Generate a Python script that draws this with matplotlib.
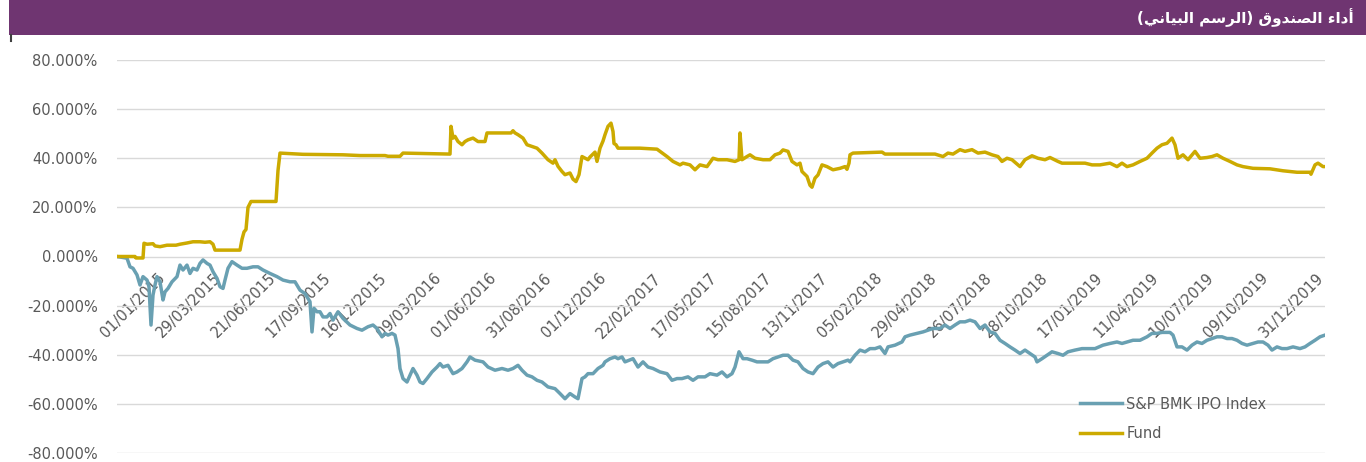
import matplotlib
matplotlib.use("Agg")
import matplotlib.pyplot as plt
from matplotlib.patches import Rectangle
from matplotlib.lines import Line2D
import numpy as np

# ---------------- data ----------------
title_ar = "أداء الصندوق (الرسم البياني)"
series_names = ["S&P BMK IPO Index", "Fund"]
tick_labels = ["01/01/2015", "29/03/2015", "21/06/2015", "17/09/2015", "16/12/2015",
               "09/03/2016", "01/06/2016", "31/08/2016", "01/12/2016", "22/02/2017",
               "17/05/2017", "15/08/2017", "13/11/2017", "05/02/2018", "29/04/2018",
               "26/07/2018", "28/10/2018", "17/01/2019", "11/04/2019", "10/07/2019",
               "09/10/2019", "31/12/2019"]
n_obs = 1208  # observation index span of the category axis

# (observation index, cumulative return %)
index_points = [
    (0, 0), (10, -0.7), (13, -4.2), (16, -4.8), (20, -7.5), (23, -11.6), (26, -8.2),
    (30, -9.6), (32, -12.3), (34, -27.9), (36, -15.7), (38, -11.6), (40, -8.2),
    (43, -10.3), (46, -17.7), (48, -14.4), (51, -13.0), (55, -10.3), (60, -8.2),
    (63, -3.5), (66, -5.5), (70, -3.5), (73, -6.9), (76, -4.8), (80, -5.5), (83, -2.8),
    (86, -1.4), (90, -2.8), (93, -3.5), (96, -6.2), (100, -8.9), (103, -12.3),
    (106, -13.0), (108, -9.6), (111, -4.8), (115, -2.1), (120, -3.5), (125, -4.8),
    (130, -4.8), (136, -4.2), (141, -4.2), (146, -5.5), (153, -6.9), (160, -8.2),
    (166, -9.6), (173, -10.3), (178, -10.3), (183, -13.7), (188, -15.1), (193, -18.4),
    (195, -30.7), (197, -21.1), (200, -22.5), (203, -22.5), (206, -24.6), (210, -24.6),
    (213, -23.2), (216, -25.9), (221, -22.5), (226, -25.2), (233, -27.9), (240, -29.3),
    (245, -30.0), (251, -28.6), (256, -27.9), (260, -29.3), (265, -32.7), (268, -31.3),
    (271, -32.0), (275, -31.3), (278, -32.0), (281, -37.5), (283, -45.6), (286, -49.7),
    (290, -51.1), (293, -48.3), (296, -45.6), (300, -48.3), (303, -51.1), (306, -51.7),
    (310, -49.7), (315, -47.0), (320, -45.0), (323, -43.6), (326, -45.0), (331, -44.3),
    (336, -47.7), (340, -47.0), (345, -45.6), (350, -42.9), (353, -40.9), (358, -42.2),
    (366, -42.9), (371, -45.0), (378, -46.3), (385, -45.6), (391, -46.3), (396, -45.6),
    (401, -44.3), (405, -46.3), (410, -48.3), (415, -49.0), (420, -50.4), (425, -51.1),
    (431, -53.1), (438, -53.8), (443, -55.8), (448, -57.9), (453, -55.8), (458, -57.2),
    (461, -57.9), (465, -49.7), (468, -49.0), (471, -47.7), (476, -47.7), (481, -45.6),
    (486, -44.3), (488, -42.9), (493, -41.6), (498, -40.9), (501, -41.6), (505, -40.9),
    (508, -42.9), (516, -41.6), (521, -45.0), (526, -42.9), (531, -45.0), (536, -45.6),
    (543, -47.0), (550, -47.7), (555, -50.4), (560, -49.7), (565, -49.7), (571, -49.0),
    (576, -50.4), (581, -49.0), (588, -49.0), (593, -47.7), (600, -48.3), (605, -47.0),
    (610, -49.0), (615, -47.7), (618, -45.0), (622, -38.8), (626, -41.6), (630, -41.6),
    (635, -42.2), (640, -42.9), (646, -42.9), (651, -42.9), (656, -41.6), (661, -40.9),
    (666, -40.2), (671, -40.2), (676, -42.2), (681, -42.9), (686, -45.6), (691, -47.0),
    (696, -47.7), (701, -45.0), (706, -43.6), (711, -42.9), (716, -45.0), (721, -43.6),
    (726, -42.9), (731, -42.2), (733, -42.9), (738, -40.2), (743, -38.1), (748, -38.8),
    (753, -37.5), (758, -37.5), (763, -36.8), (768, -39.5), (771, -36.8), (778, -36.1),
    (785, -34.8), (788, -32.7), (793, -32.0), (800, -31.3), (806, -30.7), (811, -30.0),
    (816, -29.3), (823, -29.3), (828, -27.9), (833, -29.3), (838, -27.9), (843, -26.6),
    (848, -26.6), (853, -25.9), (858, -26.6), (863, -29.3), (868, -27.9), (873, -30.7),
    (878, -31.3), (883, -34.1), (888, -35.4), (893, -36.8), (898, -38.1), (903, -39.5),
    (908, -38.1), (913, -39.5), (918, -40.9), (920, -42.9), (925, -41.6), (930, -40.2),
    (935, -38.8), (941, -39.5), (946, -40.2), (951, -38.8), (958, -38.1), (965, -37.5),
    (971, -37.5), (978, -37.5), (986, -36.1), (993, -35.4), (1000, -34.8), (1005, -35.4),
    (1010, -34.8), (1016, -34.1), (1023, -34.1), (1030, -32.7), (1035, -31.3),
    (1040, -31.3), (1045, -30.9), (1053, -30.9), (1056, -32.0), (1060, -36.8),
    (1065, -36.8), (1070, -38.1), (1075, -36.1), (1080, -34.8), (1085, -35.4),
    (1090, -34.1), (1095, -33.4), (1100, -32.7), (1105, -32.7), (1110, -33.4),
    (1115, -33.4), (1120, -34.1), (1125, -35.4), (1130, -36.1), (1136, -35.4),
    (1141, -34.8), (1146, -34.8), (1151, -36.1), (1155, -38.1), (1160, -36.8),
    (1165, -37.5), (1170, -37.5), (1176, -36.8), (1183, -37.5), (1188, -36.8),
    (1193, -35.4), (1198, -34.1), (1203, -32.7), (1208, -32.0),
]

fund_points = [
    (0, 0), (18, 0), (19, -0.6), (26, -0.6), (27, 5.4), (30, 5.0), (36, 5.2), (38, 4.3),
    (43, 4.0), (50, 4.6), (59, 4.6), (63, 5.0), (70, 5.5), (76, 6.0), (83, 6.0),
    (88, 5.8), (93, 6.0), (96, 5.0), (98, 2.6), (123, 2.6), (125, 7.0), (127, 10.0),
    (129, 11.0), (131, 20.0), (134, 22.4), (159, 22.4), (161, 35.0), (163, 42.1),
    (186, 41.6), (226, 41.4), (243, 41.1), (268, 41.1), (271, 40.8), (283, 40.8),
    (286, 42.1), (333, 41.7), (334, 53.0), (336, 48.2), (338, 48.9), (341, 46.8),
    (345, 45.5), (348, 46.8), (351, 47.5), (356, 48.2), (361, 46.8), (368, 46.8),
    (370, 50.3), (394, 50.3), (396, 51.2), (398, 50.3), (401, 49.6), (406, 48.2),
    (410, 45.5), (415, 44.8), (420, 44.1), (425, 42.1), (431, 39.4), (436, 38.0),
    (438, 39.4), (441, 36.7), (445, 34.6), (448, 33.3), (453, 34.0), (456, 31.5),
    (459, 30.5), (462, 33.3), (465, 40.7), (471, 39.4), (473, 40.5), (478, 42.5),
    (480, 38.7), (483, 44.1), (486, 47.0), (488, 49.6), (491, 53.0), (494, 54.3),
    (496, 50.9), (497, 46.0), (499, 45.5), (501, 44.1), (523, 44.1), (540, 43.7),
    (543, 42.8), (550, 40.7), (556, 38.7), (563, 37.3), (566, 38.0), (573, 37.3),
    (578, 35.3), (583, 37.3), (590, 36.6), (596, 40.0), (601, 39.4), (610, 39.4),
    (618, 38.7), (622, 39.4), (623, 50.3), (625, 39.4), (630, 40.7), (633, 41.4),
    (638, 40.0), (646, 39.4), (653, 39.4), (658, 41.4), (663, 42.1), (666, 43.4),
    (671, 42.8), (675, 38.7), (680, 37.3), (683, 38.0), (685, 34.6), (690, 32.6),
    (693, 29.0), (695, 28.2), (698, 31.9), (701, 33.2), (705, 37.3), (710, 36.6),
    (716, 35.3), (723, 35.9), (728, 36.6), (730, 35.5), (732, 38.0), (733, 41.4),
    (736, 42.1), (765, 42.5), (768, 41.7), (818, 41.7), (826, 40.7), (831, 42.1),
    (836, 41.7), (843, 43.5), (848, 42.8), (855, 43.5), (861, 42.1), (868, 42.5),
    (875, 41.4), (881, 40.7), (885, 38.7), (890, 40.0), (895, 39.4), (903, 36.6),
    (908, 39.4), (915, 41.0), (921, 40.0), (928, 39.4), (933, 40.3), (941, 38.7),
    (945, 38.0), (968, 38.0), (975, 37.3), (983, 37.3), (993, 38.0), (1000, 36.6),
    (1005, 38.0), (1010, 36.6), (1016, 37.3), (1023, 38.7), (1030, 40.0), (1035, 42.1),
    (1040, 44.1), (1045, 45.5), (1050, 46.1), (1055, 48.2), (1058, 45.5), (1061, 40.0),
    (1066, 41.4), (1071, 39.4), (1078, 42.8), (1083, 40.0), (1090, 40.3), (1095, 40.7),
    (1100, 41.4), (1106, 40.0), (1113, 38.7), (1120, 37.3), (1126, 36.6), (1136, 35.9),
    (1153, 35.7), (1166, 34.9), (1180, 34.3), (1193, 34.3), (1194, 33.5), (1198, 37.3),
    (1201, 38.0), (1206, 36.6), (1208, 36.6),
]
y_ticks = [-80, -60, -40, -20, 0, 20, 40, 60, 80]

# ---------------- helpers ----------------
_FORMS = {  # isolated, final, initial, medial
    "\u0621": (0xFE80, None, None, None),
    "\u0623": (0xFE83, 0xFE84, None, None),
    "\u0627": (0xFE8D, 0xFE8E, None, None),
    "\u0628": (0xFE8F, 0xFE90, 0xFE91, 0xFE92),
    "\u062F": (0xFEA9, 0xFEAA, None, None),
    "\u0631": (0xFEAD, 0xFEAE, None, None),
    "\u0633": (0xFEB1, 0xFEB2, 0xFEB3, 0xFEB4),
    "\u0635": (0xFEB9, 0xFEBA, 0xFEBB, 0xFEBC),
    "\u0642": (0xFED5, 0xFED6, 0xFED7, 0xFED8),
    "\u0644": (0xFEDD, 0xFEDE, 0xFEDF, 0xFEE0),
    "\u0645": (0xFEE1, 0xFEE2, 0xFEE3, 0xFEE4),
    "\u0646": (0xFEE5, 0xFEE6, 0xFEE7, 0xFEE8),
    "\u0648": (0xFEED, 0xFEEE, None, None),
    "\u064A": (0xFEF1, 0xFEF2, 0xFEF3, 0xFEF4),
}


def shape_arabic(text):
    def joins_left(c):
        f = _FORMS.get(c)
        return f is not None and f[2] is not None

    def joins_right(c):
        f = _FORMS.get(c)
        return f is not None and f[1] is not None

    out = []
    for i, c in enumerate(text):
        if c not in _FORMS:
            out.append(c)
            continue
        prev = text[i - 1] if i > 0 else ""
        nxt = text[i + 1] if i + 1 < len(text) else ""
        jp = joins_left(prev) and joins_right(c)
        jn = joins_left(c) and joins_right(nxt)
        f = _FORMS[c]
        if jp and jn:
            code = f[3]
        elif jp:
            code = f[1]
        elif jn:
            code = f[2]
        else:
            code = f[0]
        out.append(chr(code))
    vis = "".join(reversed(out))
    return vis.translate(str.maketrans("()", ")("))


# ---------------- figure ----------------
W, H = 1366, 462
fig = plt.figure(figsize=(W / 100, H / 100), dpi=100)
fig.patch.set_facecolor("white")

purple = "#6F3571"
fig.patches.append(Rectangle((9 / W, 1 - 35 / H), 1 - 9 / W, 35 / H,
                             transform=fig.transFigure, facecolor=purple,
                             edgecolor="none", zorder=0))
fig.lines.append(Line2D([10.5 / W, 10.5 / W], [1 - 35 / H, 1 - 41 / H],
                        transform=fig.transFigure, color="#404040", lw=1.5))
fig.text(1354 / W, 1 - 18 / H, shape_arabic(title_ar), color="white",
         fontsize=11, fontweight="bold", family="DejaVu Sans",
         ha="right", va="center")

ax = fig.add_axes([117 / W, 1 - 453 / H, (1325 - 117) / W, (453 - 60) / H])
ax.set_xlim(0, n_obs)
ax.set_ylim(-80, 80)

blue = "#69A0B2"
gold = "#CCAA00"
ix, iv = zip(*index_points)
fx, fv = zip(*fund_points)
ax.plot(ix, iv, color=blue, lw=2.5, solid_joinstyle="round",
        label=series_names[0], zorder=3)
ax.plot(fx, fv, color=gold, lw=2.5, solid_joinstyle="round",
        label=series_names[1], zorder=4)

ax.set_yticks(y_ticks)
ax.set_yticklabels([f"{v:.3f}%" for v in y_ticks])
ax.yaxis.grid(True, color="#D9D9D9", lw=1.0)
ax.set_axisbelow(True)

tick_pos = np.linspace(46, 1204, len(tick_labels))
ax.set_xticks(tick_pos)
ax.set_xticklabels(tick_labels)
ax.spines["bottom"].set_position(("data", 0))
for s in ax.spines.values():
    s.set_visible(False)

ax.tick_params(axis="y", length=0, pad=14, labelsize=10.5, labelcolor="#595959")
ax.tick_params(axis="x", length=0, pad=14, labelsize=10.5, labelcolor="#595959")
for lab in ax.get_xticklabels():
    lab.set_rotation(45)
    lab.set_ha("right")
    lab.set_va("center")
    lab.set_rotation_mode("anchor")

leg = ax.legend(loc="center left", bbox_to_anchor=(0.797, 0.087), frameon=False,
                fontsize=10.5, handlelength=2.9, handletextpad=0.3,
                labelspacing=1.0, borderpad=0, borderaxespad=0)
for t in leg.get_texts():
    t.set_color("#595959")

fig.savefig("out.png", dpi=100, facecolor="white")
